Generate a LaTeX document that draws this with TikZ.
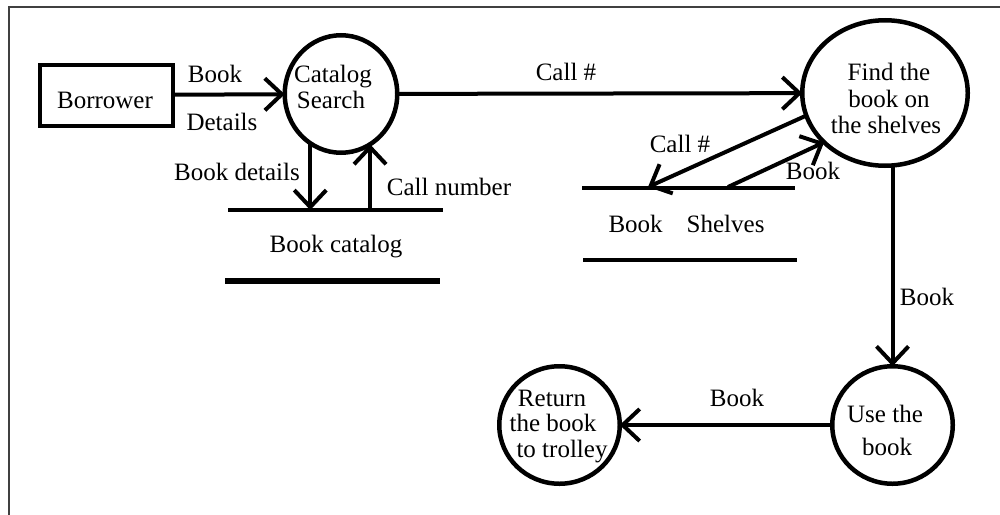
\documentclass[tikz,border=0pt]{standalone}
\usepackage{fontspec}
\setmainfont{Liberation Serif}
\usetikzlibrary{arrows.meta,shapes.geometric}

\begin{document}
\begin{tikzpicture}[x=1pt,y=-1pt,
  every node/.style={inner sep=0pt,outer sep=0pt},
  txt/.style={anchor=base,font=\fontsize{25}{27}\selectfont},
  process/.style={draw,ellipse,line width=4.5pt},
  entity/.style={draw,rectangle,line width=4pt},
  storeline/.style={line width=4.5pt},
  flow/.style={line width=4pt,-{Straight Barb[length=17pt,width=32pt,line width=4pt]}},
]
\useasboundingbox (0,0) rectangle (1000,514);
% frame
\draw[line width=1.5pt,black!75] (9,7) rectangle (1020,540);

% external entity and processes
\node[entity,minimum width=133pt,minimum height=61pt] (borrower) at (106.5,95) {};
\node[process,minimum width=112.5pt,minimum height=117.5pt] (catalog) at (341,94) {};
\node[process,minimum width=165.5pt,minimum height=145.5pt] (find) at (885,93) {};
\node[process,minimum width=120.5pt,minimum height=117.5pt] (use) at (892.5,425) {};
\node[process,minimum width=120.5pt,minimum height=117.5pt] (ret) at (559.5,425) {};

% node texts
\node[txt] (tBorrower) at (105,108) {Borrower};
\node[txt] (tCat1) at (333,82) {Catalog};
\node[txt] (tCat2) at (331,108) {Search};
\node[txt] (tFind1) at (889,80) {Find the};
\node[txt] (tFind2) at (889,107) {book on};
\node[txt] (tFind3) at (886,133) {the shelves};
\node[txt] (tUse1) at (885,422) {Use the};
\node[txt] (tUse2) at (887,455) {book};
\node[txt] (tRet1) at (552,406) {Return};
\node[txt] (tRet2) at (553,431) {the book};
\node[txt] (tRet3) at (562,457) {to trolley};

% data stores
\coordinate (bcL) at (228,210);
\coordinate (bcR) at (443,210);
\coordinate (bcL2) at (225,281);
\coordinate (bcR2) at (440,281);
\draw[storeline] (bcL) -- (bcR);
\draw[storeline,line width=5.5pt] (bcL2) -- (bcR2);
\node[txt] (tBC) at (336,252) {Book catalog};

\coordinate (bsL) at (582,188);
\coordinate (bsR) at (795,188);
\coordinate (bsL2) at (583,260);
\coordinate (bsR2) at (797,260);
\draw[storeline] (bsL) -- (bsR);
\draw[storeline] (bsL2) -- (bsR2);
\node[txt] (tBS) at (686.5,232) {Book\hspace{24pt}Shelves};

% flows
\draw[flow] (borrower) -- (catalog);
\node[txt] (lBook1) at (215,82) {Book};
\node[txt] (lDetails) at (222,130) {Details};

\draw[flow] (catalog) -- (find);
\node[txt] (lCall1) at (566,80) {Call \#};

\draw[flow] (catalog.238) -- (catalog.238 |- bcL);
\node[txt] (lBookDet) at (237,180) {Book details};
\draw[flow] (catalog.300 |- bcL) -- (catalog.300);
\node[txt] (lCallNum) at (449,195) {Call number};

\coordinate (shelfIn) at (648,187);
\coordinate (shelfOut) at (728,187);
\draw[flow] (find.196) -- (shelfIn);
\node[txt] (lCall2) at (680,152) {Call \#};
\draw[flow] (shelfOut) -- (find.219);
\node[txt] (lBook2) at (813,179) {Book};

\draw[flow] (use.north |- find.south) -- (use.north);
\node[txt] (lBook3) at (927,305) {Book};

\draw[flow] (use) -- (ret);
\node[txt] (lBook4) at (737,406) {Book};
\end{tikzpicture}
\end{document}
